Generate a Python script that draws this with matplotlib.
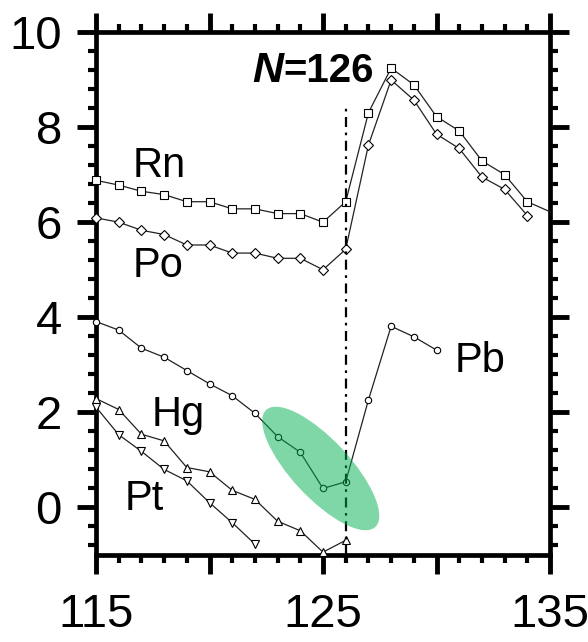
#!/usr/bin/env python3
# %%
import matplotlib.pyplot as plt
import matplotlib.transforms as mtransforms
from matplotlib.patches import Ellipse
from matplotlib.ticker import MultipleLocator

plt.rcParams['font.family'] = ['Liberation Sans', 'DejaVu Sans']

# %%
# values, x = neutron number N
n_rn = list(range(115, 136))
rn = [6.88, 6.78, 6.65, 6.58, 6.43, 6.43, 6.28, 6.28, 6.18, 6.18, 6.00,
      6.43, 8.30, 9.24, 8.89, 8.22, 7.92, 7.29, 7.00, 6.43, 6.22]
n_po = list(range(115, 135))
po = [6.09, 6.00, 5.83, 5.74, 5.52, 5.52, 5.35, 5.35, 5.24, 5.24, 5.00,
      5.43, 7.62, 8.99, 8.57, 7.85, 7.55, 6.95, 6.69, 6.14]
n_pb = list(range(115, 131))
pb = [3.91, 3.73, 3.35, 3.16, 2.88, 2.60, 2.35, 1.98, 1.49, 1.16, 0.40,
      0.54, 2.26, 3.81, 3.59, 3.31]
n_hg = list(range(115, 127))
hg = [2.29, 2.06, 1.54, 1.40, 0.84, 0.75, 0.36, 0.17, -0.29, -0.49, -0.94, -0.69]
n_pt = list(range(115, 123))
pt = [2.11, 1.53, 1.18, 0.80, 0.56, 0.10, -0.32, -0.77]

n_magic = 126
xticks = [115, 120, 125, 130, 135]
xticklabels = ['115', '', '125', '', '135']
yticks = [0, 2, 4, 6, 8, 10]


# %%
fig = plt.figure(figsize=(5.88, 6.42), dpi=100)
ax = fig.add_axes([0.1633, 0.1355, 0.7721, 0.8147])

style = dict(color='#222222', lw=0.9, markersize=5.2, markerfacecolor='white',
             markeredgecolor='black', markeredgewidth=0.8, clip_on=False, zorder=3)
ax.plot(n_rn, rn, marker='s', markevery=slice(0, len(n_rn) - 1), **style)
ax.plot(n_po, po, marker='D', **{**style, 'markersize': 4.6})
ax.plot(n_pb, pb, marker='o', **{**style, 'markersize': 4.6})
ax.plot(n_hg, hg, marker='^', **style)
ax.plot(n_pt, pt, marker='v', **style)

ax.vlines(n_magic, -1, 8.45, colors='black', lw=1.6, zorder=3,
          linestyles=(0, (4.5, 2.5, 1.2, 2.5)))

# green highlight, sized in inches around a data-space centre
trans = fig.dpi_scale_trans + mtransforms.ScaledTranslation(124.9, 0.82, ax.transData)
ax.add_patch(Ellipse((0, 0), width=1.6, height=0.58, angle=-47, transform=trans,
                     facecolor='#00B050', alpha=0.5, lw=0, zorder=4))

ax.text(123.25, 8.95, 'N', fontsize=31, fontweight='bold', fontstyle='italic',
        ha='right', va='baseline')
ax.text(123.25, 8.95, '=126', fontsize=29, fontweight='bold', ha='left', va='baseline')

ax.text(116.63, 6.94, 'Rn', fontsize=30, va='baseline')
ax.text(116.63, 4.84, 'Po', fontsize=30, va='baseline')
ax.text(117.47, 1.72, 'Hg', fontsize=30, va='baseline')
ax.text(116.28, -0.06, 'Pt', fontsize=30, va='baseline')
ax.text(130.8, 2.85, 'Pb', fontsize=30, va='baseline')

ax.set_xlim(115, 135)
ax.set_ylim(-1, 10)
ax.set_xticks(xticks, labels=xticklabels)
ax.set_yticks(yticks)
ax.xaxis.set_minor_locator(MultipleLocator(1))
ax.yaxis.set_minor_locator(MultipleLocator(0.4))

for sp in ax.spines.values():
    sp.set_linewidth(3.4)
ax.tick_params(which='both', direction='out', top=True, right=True,
               labeltop=False, labelright=False)
ax.tick_params(which='major', length=13.5, width=3.5, labelsize=34, pad=11)
ax.tick_params(which='minor', length=6, width=3)
ax.tick_params(axis='x', which='major', pad=14)

fig.savefig('out.png', dpi=100)
plt.close()
